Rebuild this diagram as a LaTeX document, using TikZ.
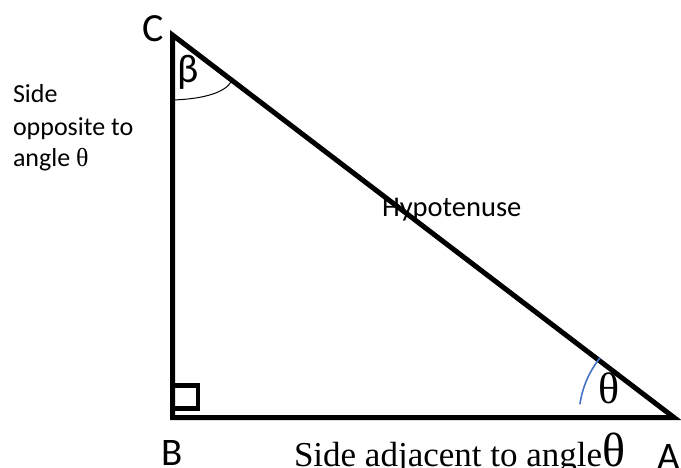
\documentclass[tikz,border=0pt]{standalone}
\usepackage{fontspec}
\setmainfont{Liberation Serif}
\newfontfamily\cali{Carlito}
\newfontfamily\tnr{Liberation Serif}
\tikzset{
  side/.style={line width=5pt, line join=miter, line cap=butt},
  lbl/.style={inner sep=0pt, outer sep=0pt},
}
\begin{document}
\begin{tikzpicture}[x=1pt,y=-1pt]
\useasboundingbox (0,0) rectangle (681,468);
\coordinate (C) at (172.5,35);
\coordinate (B) at (172.5,417.5);
\coordinate (A) at (674,417.5);
\draw[side] (C) -- (B) -- (A) -- cycle;
% right angle mark
\draw[line width=4.5pt] (172.5,385.5) rectangle (198,408.5);
% beta arc
\draw[line width=1pt] (172.5,100) .. controls (205,99) and (225,92) .. (231,82);
% theta arc
\draw[line width=1.6pt, color={rgb,255:red,68;green,114;blue,196}]
  ([shift={(188:95)}]A) arc[start angle=188, end angle=219, radius=95];
% labels
\node[lbl, anchor=base west, font=\cali\fontsize{40}{46}\selectfont] (lC) at (142,42) {C};
\node[lbl, anchor=center, font=\cali\fontsize{40}{44}\selectfont] (lbeta) at (188,72) {β};
\node[lbl, anchor=base west, font=\cali\fontsize{39}{44}\selectfont] (lB) at (161,465) {B};
\node[lbl, anchor=base west, font=\cali\fontsize{39}{44}\selectfont] (lA) at (657,469) {A};
\node[lbl, anchor=center, font=\tnr\fontsize{44}{50}\selectfont] (lth) at (609,388) {θ};
\node[lbl, anchor=base west, font=\cali\fontsize{28.5}{34}\selectfont] (hyp) at (382,217) {Hypotenuse};
\node[lbl, anchor=base west, font=\tnr\fontsize{35}{40}\selectfont] (adj) at (294,466) {Side adjacent to angle{\fontsize{48}{50}\selectfont θ}};
\node[lbl, anchor=base west, font=\cali\fontsize{26}{30}\selectfont] (o1) at (13,103) {Side};
\node[lbl, anchor=base west, font=\cali\fontsize{26}{30}\selectfont] (o2) at (13,136) {opposite to};
\node[lbl, anchor=base west, font=\cali\fontsize{26}{30}\selectfont] (o3) at (13,167) {angle {\tnr θ}};
\end{tikzpicture}
\end{document}
